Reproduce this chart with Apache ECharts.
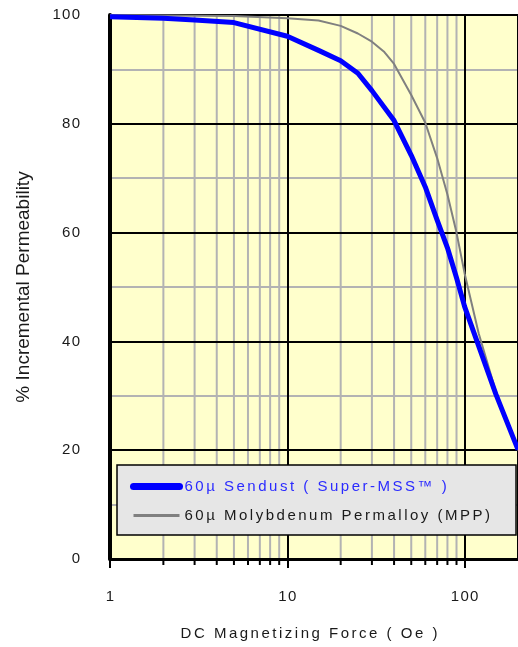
<!DOCTYPE html>
<html>
<head>
<meta charset="utf-8">
<script src="https://cdn.jsdelivr.net/npm/echarts@6/dist/echarts.min.js"></script>
<style>
  html, body { margin: 0; padding: 0; background: #fff; }
  #chart { width: 518px; height: 647px; }
</style>
</head>
<body>
<div id="chart"></div>
<script>
// 数据
const sendustOe = [1, 2, 3, 5, 10, 15, 20, 25, 30, 40, 50, 60, 70, 80, 90, 100, 150, 200];
const sendustPerm = [99.7, 99.4, 99.1, 98.6, 96.1, 93.5, 91.6, 89.3, 86.1, 80.6, 74.2, 68.4, 62.3, 57.2, 51.7, 46.4, 30.3, 20.1];
const mppOe = [1, 5, 10, 15, 20, 25, 30, 35, 40, 50, 60, 70, 80, 90, 100, 120, 150, 200];
const mppPerm = [100, 99.8, 99.4, 99.0, 98.0, 96.6, 95.1, 93.3, 91.0, 85.3, 80.2, 73.7, 67.0, 60.0, 52.5, 41.5, 30.8, 20.0];
const minorOe = [2, 3, 4, 5, 6, 7, 8, 9, 20, 30, 40, 50, 60, 70, 80, 90];
const seriesNames = ['60µ Sendust ( Super-MSS™ )', '60µ Molybdenum Permalloy (MPP)'];
const xName = 'DC Magnetizing Force ( Oe )';
const yName = '% Incremental Permeability';

const FONT = "'Liberation Sans', Arial, sans-serif";
const HAIR = '\u200A';
const HAIR2 = '\u200A\u200A';
// spread letters out a little, like the original
function spaced(s, sp) {
    return String(s).split('').join(sp);
}

let mychart = echarts.init(document.getElementById('chart'));

mychart.setOption({
    animation: false,
    grid: {
        left: 110,
        right: 0,
        top: 15,
        bottom: 88,
        show: true,
        backgroundColor: '#FFFFCC',
        borderWidth: 0
    },
    legend: {
        orient: 'vertical',
        left: 117,
        top: 465,
        backgroundColor: '#E6E6E6',
        borderColor: '#000',
        borderWidth: 1.5,
        borderRadius: 0,
        padding: [14, 26, 12, 13],
        itemWidth: 46,
        itemHeight: 14,
        itemGap: 14,
        formatter: function (name) {
            return spaced(name, HAIR2);
        },
        textStyle: { fontFamily: FONT, fontSize: 15 },
        data: [
            { name: seriesNames[0], lineStyle: { width: 7, cap: 'round' }, itemStyle: { opacity: 0 }, textStyle: { color: '#2B2BFF' } },
            { name: seriesNames[1], lineStyle: { width: 3 }, itemStyle: { opacity: 0 }, textStyle: { color: '#1A1A1A' } }
        ]
    },
    xAxis: [
        {
            type: 'log',
            logBase: 10,
            min: 1,
            max: 200,
            z: 2,
            name: spaced(xName, HAIR2),
            nameLocation: 'middle',
            nameGap: 67,
            nameTextStyle: { fontFamily: FONT, fontSize: 15, color: '#1A1A1A', padding: [0, 10, 0, 0] },
            axisLine: { show: true, lineStyle: { color: '#000', width: 2.5 } },
            axisTick: { show: true, length: 9, lineStyle: { color: '#000', width: 2 } },
            axisLabel: {
                margin: 30,
                fontFamily: FONT,
                fontSize: 15,
                color: '#1A1A1A',
                showMaxLabel: false,
                formatter: function (v) {
                    let e = Math.log10(v);
                    return Math.abs(e - Math.round(e)) < 1e-6 ? spaced(v, HAIR) : '';
                }
            },
            splitLine: { show: true, lineStyle: { color: '#000', width: 2 } },
            minorTick: { show: false },
            minorSplitLine: { show: false }
        },
        {
            // top border of the plot
            type: 'log',
            logBase: 10,
            min: 1,
            max: 200,
            position: 'top',
            z: 5,
            axisLine: { show: true, lineStyle: { color: '#000', width: 3 } },
            axisTick: { show: false },
            axisLabel: { show: false },
            splitLine: { show: false }
        }
    ],
    yAxis: [
        {
            type: 'value',
            min: 0,
            max: 100,
            interval: 10,
            z: 0,
            name: yName,
            nameLocation: 'middle',
            nameGap: 77,
            nameTextStyle: { fontFamily: FONT, fontSize: 19, color: '#1A1A1A' },
            axisLine: { show: true, lineStyle: { color: '#000', width: 4 } },
            axisTick: { show: false },
            axisLabel: {
                margin: 30,
                fontFamily: FONT,
                fontSize: 15,
                color: '#1A1A1A',
                formatter: function (v) {
                    return v % 20 === 0 ? spaced(v, HAIR) : '';
                }
            },
            splitLine: { show: true, lineStyle: { color: '#B3B3B3', width: 2 } }
        },
        {
            // black lines every 20
            type: 'value',
            min: 0,
            max: 100,
            interval: 20,
            position: 'left',
            z: 2,
            axisLine: { show: false },
            axisTick: { show: false },
            axisLabel: { show: false },
            splitLine: { show: true, lineStyle: { color: '#000', width: 2 } }
        }
    ],
    series: [
        {
            // gray minor grid (2..9, 20..90) with small ticks under the axis
            type: 'custom',
            name: 'minor',
            silent: true,
            z: 1,
            xAxisIndex: 0,
            yAxisIndex: 0,
            data: minorOe.map(function (v) { return [v, 0]; }),
            renderItem: function (params, api) {
                let top = api.coord([api.value(0), 100]);
                let bot = api.coord([api.value(0), 0]);
                return {
                    type: 'group',
                    children: [
                        { type: 'line', shape: { x1: top[0], y1: top[1], x2: bot[0], y2: bot[1] }, style: { stroke: '#B3B3B3', lineWidth: 2 } },
                        { type: 'line', shape: { x1: bot[0], y1: bot[1], x2: bot[0], y2: bot[1] + 6 }, style: { stroke: '#000', lineWidth: 2 } }
                    ]
                };
            }
        },
        {
            name: seriesNames[1],
            type: 'line',
            z: 3,
            symbol: 'none',
            xAxisIndex: 0,
            yAxisIndex: 0,
            lineStyle: { color: '#808080', width: 2 },
            itemStyle: { color: '#808080' },
            data: mppOe.map(function (x, i) { return [x, mppPerm[i]]; })
        },
        {
            name: seriesNames[0],
            type: 'line',
            z: 4,
            symbol: 'none',
            xAxisIndex: 0,
            yAxisIndex: 0,
            lineStyle: { color: '#0000FF', width: 5, join: 'round' },
            itemStyle: { color: '#0000FF' },
            data: sendustOe.map(function (x, i) { return [x, sendustPerm[i]]; })
        }
    ]
});
</script>
</body>
</html>
